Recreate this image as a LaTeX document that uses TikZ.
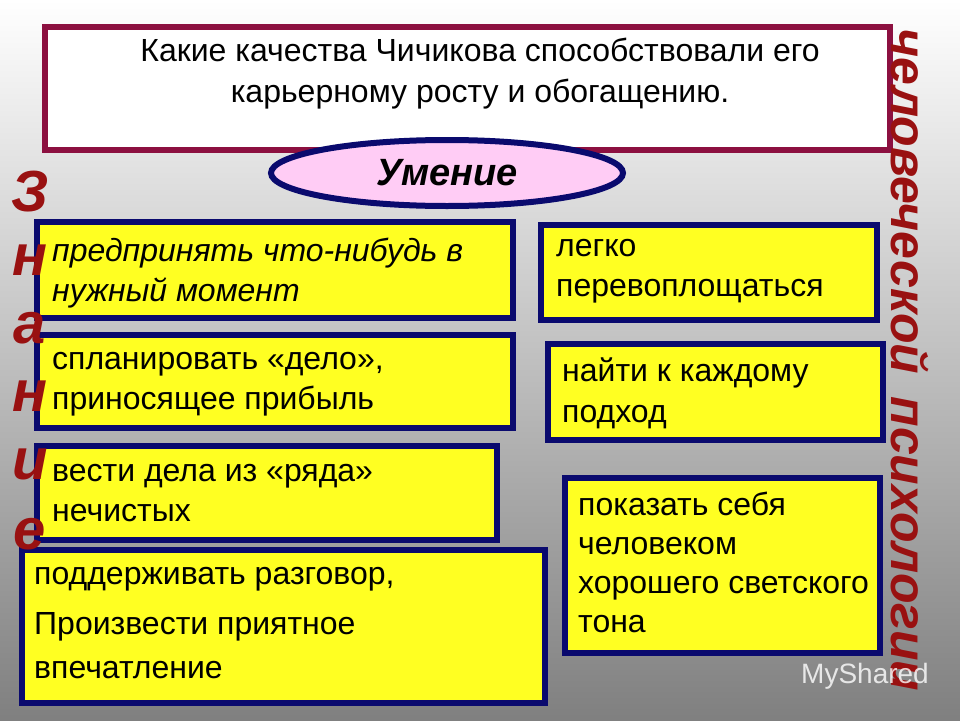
\documentclass[tikz,border=0pt]{standalone}
\usepackage{fontspec}
\setmainfont{Liberation Sans}
\usetikzlibrary{shapes.geometric}
\begin{document}
\begin{tikzpicture}[x=1pt,y=-1pt,
  ybox/.style={draw=navy,line width=6pt,fill=yel,inner sep=0pt},
  btxt/.style={anchor=north west,align=left,font=\fontsize{32}{40}\selectfont,text=black,inner sep=0pt},
  red3d/.style={text=dred,font=\fontsize{58}{58}\selectfont\bfseries\itshape}]
\definecolor{navy}{HTML}{0A0A6E}
\definecolor{yel}{HTML}{FFFF22}
\definecolor{dred}{HTML}{991111}
\definecolor{maroon}{HTML}{8C1040}
\definecolor{pinkfill}{HTML}{FFCCF5}
\shade[top color=white,bottom color=black!50] (0,0) rectangle (960,720);
\useasboundingbox (0,0) rectangle (960,720);
% top box
\draw[draw=maroon,line width=6pt,fill=white] (45,27) rectangle (890,150);
\node[align=center,font=\fontsize{32}{41}\selectfont] (q) at (480,74) {Какие качества Чичикова способствовали его\\карьерному росту и обогащению.};
\node[ellipse,draw=navy,line width=6pt,fill=pinkfill,minimum width=352,minimum height=66,font=\fontsize{38}{38}\selectfont\bfseries\itshape] (um) at (447,173) {Умение};
% boxes
\draw[ybox] (37,222) rectangle (513,318);
\node[btxt,font=\fontsize{32}{40}\selectfont\itshape] (t1) at (52,238) {предпринять что-нибудь в\\нужный момент};
\draw[ybox] (37,335) rectangle (513,428);
\node[btxt] (t2) at (52,352) {спланировать «дело»,\\приносящее прибыль};
\draw[ybox] (37,446) rectangle (497,540);
\node[btxt] (t3) at (52,464) {вести дела из «ряда»\\нечистых};
\draw[ybox] (22,550) rectangle (545,703);
\node[btxt,font=\fontsize{32}{44}\selectfont] (t4) at (34,567) {поддерживать разговор,\\[6pt]Произвести приятное\\впечатление};
\draw[ybox] (541,225) rectangle (877,320);
\node[btxt] (t5) at (556,239) {легко\\перевоплощаться};
\draw[ybox] (548,344) rectangle (883,440);
\node[btxt,font=\fontsize{32}{41}\selectfont] (t6) at (562,358) {найти к каждому\\подход};
\draw[ybox] (565,478) rectangle (880,653);
\node[btxt,font=\fontsize{32}{39}\selectfont] (t7) at (578,492) {показать себя\\человеком\\хорошего светского\\тона};
% left vertical word
\foreach \l/\yy [count=\i] in {З/192,н/260,а/328,н/396,и/464,е/534}
  \node[red3d] (z\i) at (30,\yy) {\l};
% right vertical word
\node[red3d,rotate=-90,font=\fontsize{50}{50}\selectfont\bfseries\itshape] (ps) at (910,360) {человеческой\hspace{22pt}психологии};
\node[text=white,opacity=0.8,font=\fontsize{28}{28}\selectfont] (ms) at (865,676) {MyShared};
\end{tikzpicture}
\end{document}
